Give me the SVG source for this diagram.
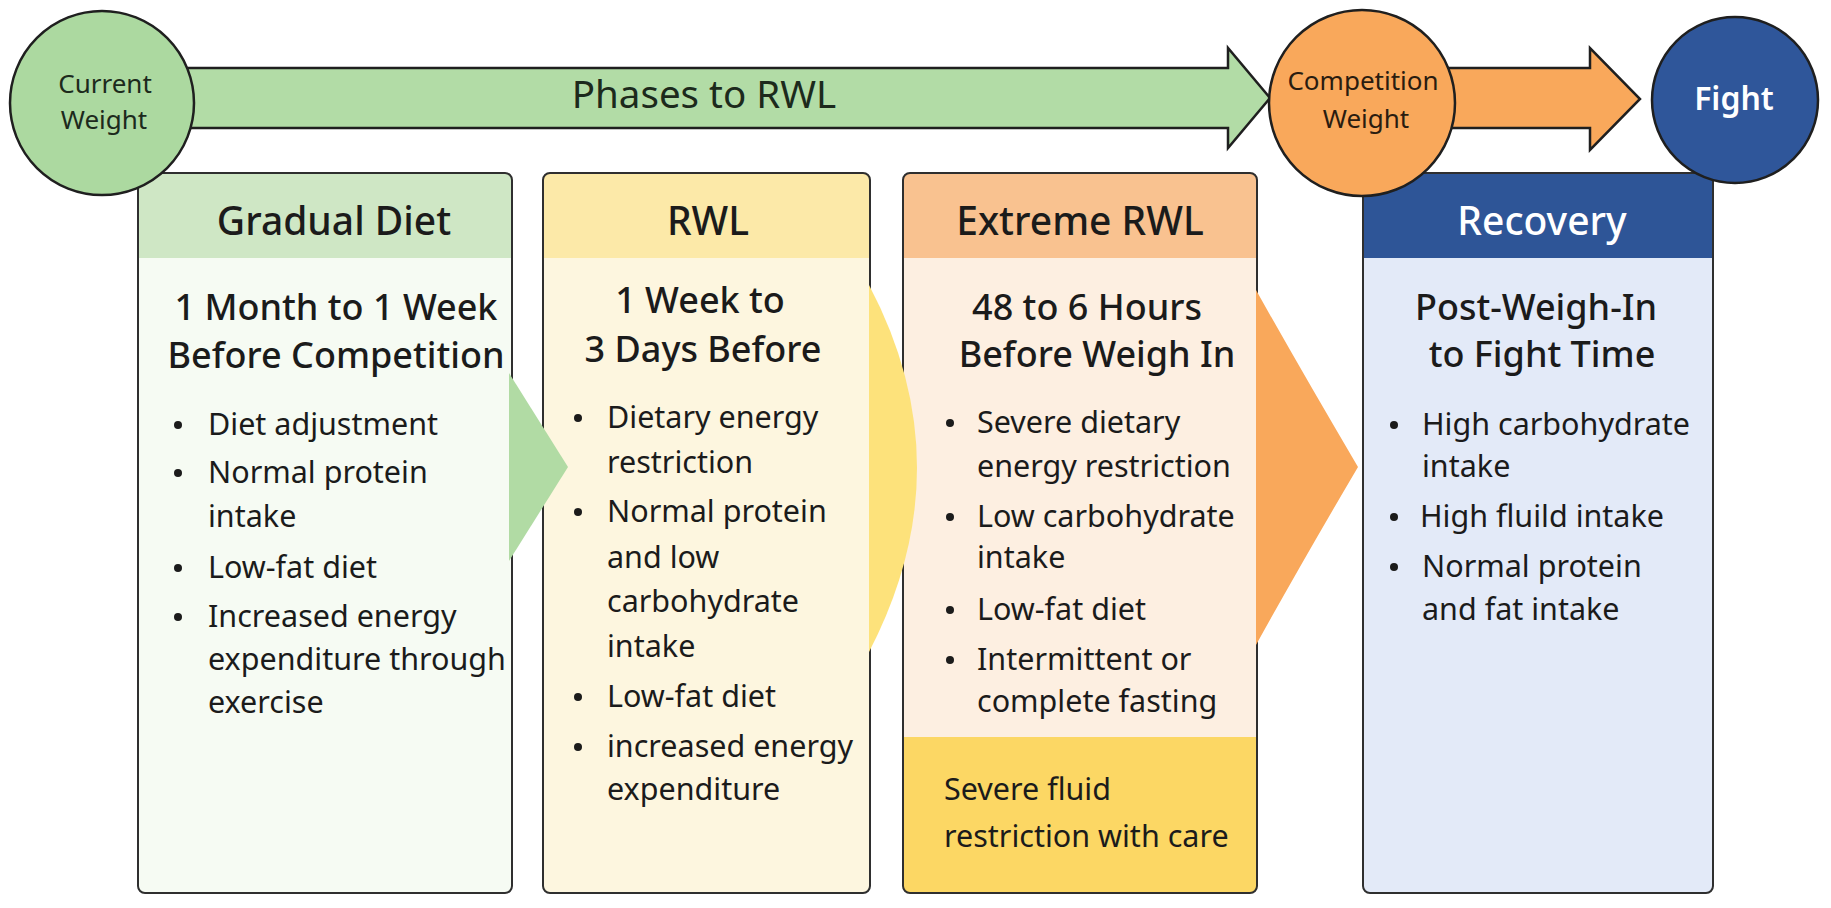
<svg xmlns="http://www.w3.org/2000/svg" width="1831" height="908" viewBox="0 0 1831 908">
<style>
text { font-family: "Noto Sans", "Open Sans", "Liberation Sans", sans-serif; fill: #1b1b1b; }
.hdr { font-size: 39px; font-weight: 500; text-anchor: middle; }
.sub { font-size: 36px; font-weight: 500; text-anchor: middle; }
.bul { font-size: 30.5px; }
.outline { fill: none; stroke: #2f2f2f; stroke-width: 2; }
.dot { fill: #1b1b1b; }
.ring { stroke: #1f1f1f; stroke-width: 2.5; }
.ctext { font-size: 26px; text-anchor: middle; }
.arrow { stroke: #1f1f1f; stroke-width: 2.5; stroke-linejoin: miter; }
</style>
<rect width="1831" height="908" fill="#ffffff"/>

<g id="box-gradual">
  <rect x="138" y="173" width="374" height="720" rx="7" fill="#f6fbf3"/>
  <path d="M138 180 Q138 173 145 173 L505 173 Q512 173 512 180 L512 258 L138 258 Z" fill="#cfe7c5"/>
  <rect x="138" y="173" width="374" height="720" rx="7" class="outline"/>
  <text class="hdr" x="334" y="235">Gradual Diet</text>
  <text class="sub" x="336" y="320">1 Month to 1 Week</text>
  <text class="sub" x="336" y="368">Before Competition</text>
  <g class="bul">
    <circle class="dot" cx="178" cy="425" r="4"/><text x="208" y="435">Diet adjustment</text>
    <circle class="dot" cx="178" cy="473" r="4"/><text x="208" y="483">Normal protein</text>
    <text x="208" y="527">intake</text>
    <circle class="dot" cx="178" cy="568" r="4"/><text x="208" y="578">Low-fat diet</text>
    <circle class="dot" cx="178" cy="617" r="4"/><text x="208" y="627">Increased energy</text>
    <text x="208" y="670">expenditure through</text>
    <text x="208" y="713">exercise</text>
  </g>
</g>

<g id="box-rwl">
  <rect x="543" y="173" width="327" height="720" rx="7" fill="#fdf6df"/>
  <path d="M543 180 Q543 173 550 173 L863 173 Q870 173 870 180 L870 258 L543 258 Z" fill="#fce9a8"/>
  <rect x="543" y="173" width="327" height="720" rx="7" class="outline"/>
  <text class="hdr" x="708" y="235">RWL</text>
  <text class="sub" x="700" y="313">1 Week to</text>
  <text class="sub" x="703" y="362">3 Days Before</text>
  <g class="bul">
    <circle class="dot" cx="578" cy="418" r="4"/><text x="607" y="428">Dietary energy</text>
    <text x="607" y="473">restriction</text>
    <circle class="dot" cx="578" cy="512" r="4"/><text x="607" y="522">Normal protein</text>
    <text x="607" y="568">and low</text>
    <text x="607" y="612">carbohydrate</text>
    <text x="607" y="657">intake</text>
    <circle class="dot" cx="578" cy="697" r="4"/><text x="607" y="707">Low-fat diet</text>
    <circle class="dot" cx="578" cy="747" r="4"/><text x="607" y="757">increased energy</text>
    <text x="607" y="800">expenditure</text>
  </g>
</g>

<g id="box-extreme">
  <rect x="903" y="173" width="354" height="720" rx="7" fill="#fdefe1"/>
  <path d="M903 180 Q903 173 910 173 L1250 173 Q1257 173 1257 180 L1257 258 L903 258 Z" fill="#f9c290"/>
  <path d="M903 737 L1257 737 L1257 886 Q1257 893 1250 893 L910 893 Q903 893 903 886 Z" fill="#fcd764"/>
  <rect x="903" y="173" width="354" height="720" rx="7" class="outline"/>
  <text class="hdr" x="1080" y="235">Extreme RWL</text>
  <text class="sub" x="1087" y="320">48 to 6 Hours</text>
  <text class="sub" x="1097" y="367">Before Weigh In</text>
  <g class="bul">
    <circle class="dot" cx="950" cy="423" r="4"/><text x="977" y="433">Severe dietary</text>
    <text x="977" y="477">energy restriction</text>
    <circle class="dot" cx="950" cy="517" r="4"/><text x="977" y="527">Low carbohydrate</text>
    <text x="977" y="568">intake</text>
    <circle class="dot" cx="950" cy="610" r="4"/><text x="977" y="620">Low-fat diet</text>
    <circle class="dot" cx="950" cy="660" r="4"/><text x="977" y="670">Intermittent or</text>
    <text x="977" y="712">complete fasting</text>
    <text x="944" y="800">Severe fluid</text>
    <text x="944" y="847">restriction with care</text>
  </g>
</g>

<g id="box-recovery">
  <rect x="1363" y="173" width="350" height="720" rx="7" fill="#e3eaf8"/>
  <path d="M1363 180 Q1363 173 1370 173 L1706 173 Q1713 173 1713 180 L1713 258 L1363 258 Z" fill="#2e5597"/>
  <rect x="1363" y="173" width="350" height="720" rx="7" class="outline"/>
  <text class="hdr" x="1542" y="235" style="fill:#ffffff">Recovery</text>
  <text class="sub" x="1536" y="320">Post-Weigh-In</text>
  <text class="sub" x="1542" y="367">to Fight Time</text>
  <g class="bul">
    <circle class="dot" cx="1394" cy="425" r="4"/><text x="1422" y="435">High carbohydrate</text>
    <text x="1422" y="477">intake</text>
    <circle class="dot" cx="1394" cy="517" r="4"/><text x="1420" y="527">High fluild intake</text>
    <circle class="dot" cx="1394" cy="567" r="4"/><text x="1422" y="577">Normal protein</text>
    <text x="1422" y="620">and fat intake</text>
  </g>
</g>

<g id="connectors">
  <path d="M509 373 L568 467 L509 561 Z" fill="#b1dba4"/>
  <path d="M869 285 Q965 467 869 652 Z" fill="#fde27b"/>
  <path d="M1256 290 Q1302 372 1358 467 Q1302 562 1256 645 Z" fill="#f9a85b"/>
  <path class="arrow" d="M150 68 L1228 68 L1228 48 L1270 98 L1228 148 L1228 128 L150 128 Z" fill="#b2dca6"/>
  <text x="704" y="108" style="font-size:38.5px;text-anchor:middle;fill:#1c2a1c">Phases to RWL</text>
  <path class="arrow" d="M1440 68 L1590 68 L1590 48 L1640 99 L1590 150 L1590 128 L1440 128 Z" fill="#f9a85b"/>
</g>

<g id="node-current">
  <circle class="ring" cx="102" cy="103" r="92" fill="#acd9a0"/>
  <text class="ctext" x="105" y="93" style="fill:#1c2a1c">Current</text>
  <text class="ctext" x="104" y="129" style="fill:#1c2a1c">Weight</text>
</g>

<g id="node-competition">
  <circle class="ring" cx="1362" cy="103" r="93" fill="#f9a85b"/>
  <text class="ctext" x="1363" y="90" style="fill:#2a1c10">Competition</text>
  <text class="ctext" x="1366" y="128" style="fill:#2a1c10">Weight</text>
</g>

<g id="node-fight">
  <circle class="ring" cx="1735" cy="100" r="83" fill="#2f569a"/>
  <text x="1734" y="110" style="font-size:32px;font-weight:600;text-anchor:middle;fill:#ffffff">Fight</text>
</g>
</svg>
